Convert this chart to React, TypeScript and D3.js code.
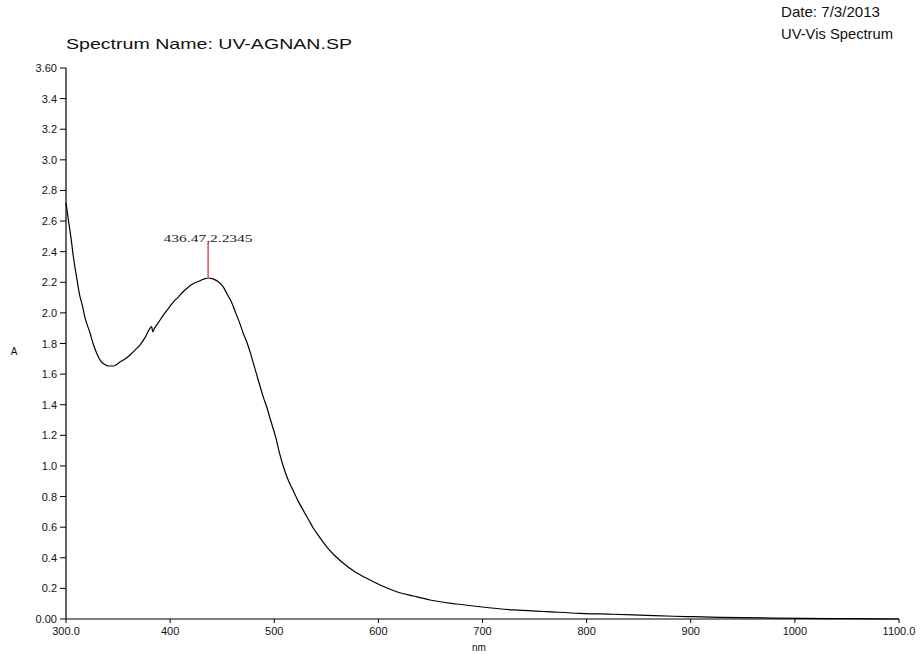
import React from "react";
import * as d3 from "d3";

const wavelength = [
  300, 302, 305, 307, 310, 313, 316, 318, 320, 323, 326, 329.5, 332, 334, 337, 340.7,
  345.5, 349, 352, 357, 361.5, 366, 371, 376, 380.7, 382.3, 383.2, 385, 387, 391, 395,
  399, 403, 408, 412.7, 417, 422, 427, 432, 436.5, 441, 446, 451, 455, 459, 463, 467,
  470, 473.6, 477, 480, 484.7, 489.5, 493, 496, 501.7, 505, 508.8, 513, 518.4, 523,
  528, 533, 537.6, 544, 550.4, 558, 566.4, 577, 588.8, 601.6, 617.6, 633.6, 649.6,
  675.3, 697.7, 729.7, 761.7, 793.8, 825.8, 857.8, 883.4, 902.6, 928, 979.5, 1056, 1100,
];
const absorbance = [
  2.72, 2.62, 2.48, 2.37, 2.24, 2.12, 2.04, 1.975, 1.93, 1.87, 1.8, 1.736, 1.7, 1.68, 1.664,
  1.653, 1.653, 1.665, 1.68, 1.7, 1.725, 1.755, 1.79, 1.84, 1.9, 1.91, 1.877, 1.9, 1.92,
  1.96, 2.0, 2.035, 2.07, 2.105, 2.14, 2.165, 2.19, 2.205, 2.22, 2.228, 2.222, 2.205, 2.17,
  2.12, 2.07, 2.0, 1.93, 1.87, 1.81, 1.74, 1.67, 1.56, 1.45, 1.38, 1.31, 1.18, 1.085, 0.995,
  0.915, 0.835, 0.77, 0.708, 0.648, 0.593, 0.53, 0.472, 0.415, 0.364, 0.31, 0.266, 0.222,
  0.178, 0.15, 0.124, 0.098, 0.08, 0.059, 0.048, 0.037, 0.031, 0.024, 0.018, 0.015, 0.011,
  0.006, 0.002, 0.0,
];

const yTicks = [0, 0.2, 0.4, 0.6, 0.8, 1.0, 1.2, 1.4, 1.6, 1.8, 2.0, 2.2, 2.4, 2.6, 2.8, 3.0, 3.2, 3.4, 3.6];
const yTickLabels = ["0.00", "0.2", "0.4", "0.6", "0.8", "1.0", "1.2", "1.4", "1.6", "1.8", "2.0", "2.2", "2.4", "2.6", "2.8", "3.0", "3.2", "3.4", "3.60"];
const xTicks = [300, 400, 500, 600, 700, 800, 900, 1000, 1100];
const xTickLabels = ["300.0", "400", "500", "600", "700", "800", "900", "1000", "1100.0"];

const peakX = [436.47];
const peakY = [2.2345];
const peakLabel = ["436.47,2.2345"];

const titleText = "Spectrum Name: UV-AGNAN.SP";
const dateText = "Date: 7/3/2013";
const typeText = "UV-Vis Spectrum";
const yLabel = "A";
const xLabel = "nm";

export default function App() {
  const W = 924;
  const H = 654;
  const left = 66;
  const right = 899;
  const top = 68;
  const bottom = 619;
  const x = d3.scaleLinear().domain([300, 1100]).range([left, right]);
  const y = d3.scaleLinear().domain([0, 3.6]).range([bottom, top]);
  const pts = wavelength.map((w, i) => [w, absorbance[i]] as [number, number]);
  const line = d3
    .line<[number, number]>()
    .x((d) => x(d[0]))
    .y((d) => y(d[1]))
    .curve(d3.curveMonotoneX);
  const font = "'Liberation Sans', Arial, Helvetica, sans-serif";
  const serif = "'Liberation Serif', 'Times New Roman', serif";
  return (
    <svg
      width={W}
      height={H}
      style={{ position: "absolute", left: 0, top: 0, background: "#fff" }}
      fontFamily={font}
    >
      <rect x={0} y={0} width={W} height={H} fill="#fff" />
      <text x={66} y={49} fontSize={14.5} fill="#111" textLength={286} lengthAdjust="spacingAndGlyphs">{titleText}</text>
      <text x={781} y={17} fontSize={14.5} fill="#111" textLength={99} lengthAdjust="spacingAndGlyphs">{dateText}</text>
      <text x={781} y={39} fontSize={14.5} fill="#111" textLength={112} lengthAdjust="spacingAndGlyphs">{typeText}</text>

      {/* y axis */}
      <line x1={left} x2={left} y1={top} y2={bottom} stroke="#000" strokeWidth={1.2} />
      {yTicks.map((t, i) => (
        <g key={"y" + i}>
          <line x1={left - 6} x2={left} y1={y(t)} y2={y(t)} stroke="#000" strokeWidth={1} />
          <text x={left - 9} y={y(t) + 4} fontSize={11} textAnchor="end" fill="#111">
            {yTickLabels[i]}
          </text>
        </g>
      ))}
      {/* x axis */}
      <line x1={left} x2={right} y1={bottom} y2={bottom} stroke="#000" strokeWidth={1.2} />
      {xTicks.map((t, i) => (
        <g key={"x" + i}>
          <line x1={x(t)} x2={x(t)} y1={bottom} y2={bottom + 4} stroke="#000" strokeWidth={1} />
          <text x={x(t)} y={bottom + 16} fontSize={11} textAnchor="middle" fill="#111">
            {xTickLabels[i]}
          </text>
        </g>
      ))}
      <text x={14} y={355} fontSize={10} textAnchor="middle" fill="#111">{yLabel}</text>
      <text x={479} y={651} fontSize={10} textAnchor="middle" fill="#111">{xLabel}</text>

      <path d={line(pts) || ""} fill="none" stroke="#000" strokeWidth={1.2} />

      {peakX.map((p, i) => (
        <g key={"p" + i}>
          <line x1={x(p)} x2={x(p)} y1={y(peakY[i])} y2={y(peakY[i]) - 34} stroke="#e0202a" strokeWidth={1.2} />
          <text x={x(p)} y={y(peakY[i]) - 35} fontSize={11} fontFamily={serif} textAnchor="middle" fill="#222" textLength={89} lengthAdjust="spacingAndGlyphs">
            {peakLabel[i]}
          </text>
        </g>
      ))}
    </svg>
  );
}
